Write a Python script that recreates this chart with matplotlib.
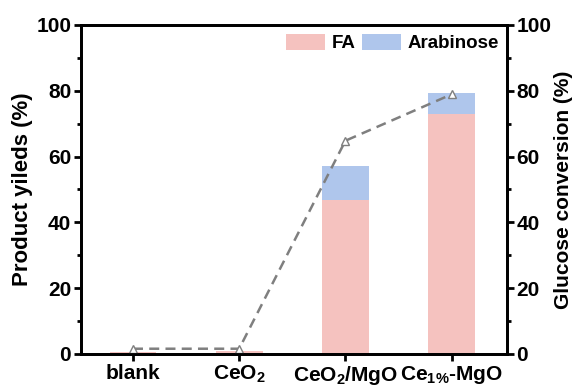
import matplotlib.pyplot as plt
from matplotlib.ticker import MultipleLocator

plt.rcParams['font.family'] = 'Liberation Sans'
plt.rcParams['font.weight'] = 'bold'
plt.rcParams['mathtext.fontset'] = 'custom'
plt.rcParams['mathtext.rm'] = 'Liberation Sans:bold'
plt.rcParams['mathtext.it'] = 'Liberation Sans:bold'
plt.rcParams['mathtext.bf'] = 'Liberation Sans:bold'
plt.rcParams['mathtext.default'] = 'rm'

catalysts = ['blank', 'CeO$_2$', 'CeO$_2$/MgO', 'Ce$_{1\\%}$-MgO']
fa_yield = [0.5, 1.0, 46.7, 73.0]
arabinose_yield = [0.0, 0.0, 10.5, 6.2]
glucose_conv = [1.6, 1.6, 64.8, 78.9]

x = list(range(len(catalysts)))

fig = plt.figure(figsize=(5.74, 3.89), dpi=100)
ax = fig.add_axes([0.141, 0.09, 0.742, 0.846])

ax.bar(x, fa_yield, width=0.44, color='#F5C2BF', label='FA', zorder=2)
ax.bar(x, arabinose_yield, width=0.44, bottom=fa_yield, color='#AFC6EC',
       label='Arabinose', zorder=2)

ax.set_xlim(-0.49, 3.52)
ax.set_ylim(0, 100)
ax.set_xticks(x)
ax.set_xticklabels(catalysts, fontsize=15)
ax.yaxis.set_major_locator(MultipleLocator(20))
ax.yaxis.set_minor_locator(MultipleLocator(10))
ax.tick_params(axis='both', which='major', labelsize=15, width=2, length=5, pad=2)
ax.tick_params(axis='y', which='minor', width=2, length=3)
ax.set_ylabel('Product yileds (%)', fontsize=16, fontweight='bold', labelpad=2)
for s in ax.spines.values():
    s.set_linewidth(2)

ax2 = ax.twinx()
ax2.plot(x, glucose_conv, linestyle='--', color='#7F7F7F', lw=1.8,
         marker='^', markersize=6, markerfacecolor='white',
         markeredgecolor='#7F7F7F', dashes=(4, 2.5))
ax2.set_ylim(0, 100)
ax2.yaxis.set_major_locator(MultipleLocator(20))
ax2.yaxis.set_minor_locator(MultipleLocator(10))
ax2.tick_params(axis='y', which='major', labelsize=15, width=2, length=5, pad=2)
ax2.tick_params(axis='y', which='minor', width=2, length=3)
ax2.set_ylabel('Glucose conversion (%)', fontsize=15, fontweight='bold', labelpad=2)
for s in ax2.spines.values():
    s.set_linewidth(2)

ax.legend(loc='upper right', bbox_to_anchor=(0.99, 0.985), ncol=2, frameon=False,
          fontsize=13.5, handlelength=2.1, handleheight=1.0, columnspacing=0.3,
          handletextpad=0.35, borderaxespad=0.0, borderpad=0.2)

fig.savefig('out.png', dpi=100)
